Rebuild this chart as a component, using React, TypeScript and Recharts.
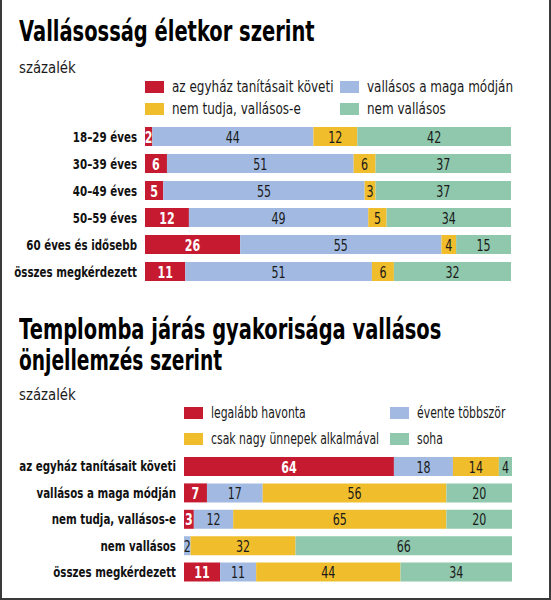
import { Bar, BarChart, LabelList, XAxis, YAxis } from "recharts";

// Vallásosság életkor szerint
const AGE_GROUPS = [
  "18–29 éves",
  "30–39 éves",
  "40–49 éves",
  "50–59 éves",
  "60 éves és idősebb",
  "összes megkérdezett",
];
const FOLLOWS_CHURCH = [2, 6, 5, 12, 26, 11];
const OWN_WAY = [44, 51, 55, 49, 55, 51];
const DONT_KNOW = [12, 6, 3, 5, 4, 6];
const NOT_RELIGIOUS = [42, 37, 37, 34, 15, 32];

// Templomba járás gyakorisága vallásos önjellemzés szerint
const SELF_IDS = [
  "az egyház tanításait követi",
  "vallásos a maga módján",
  "nem tudja, vallásos-e",
  "nem vallásos",
  "összes megkérdezett",
];
const MONTHLY = [64, 7, 3, 0, 11];
const YEARLY = [18, 17, 12, 2, 11];
const HOLIDAYS = [14, 56, 65, 32, 44];
const NEVER = [4, 20, 20, 66, 34];

const RED = "#c51a30";
const BLUE = "#a2bae2";
const YELLOW = "#f0bd2c";
const GREEN = "#8fc8ad";

// no condensed face installed, so DejaVu gets squeezed horizontally
const FONT = "'DejaVu Sans', sans-serif";

type Series = { key: string; name: string; color: string; values: number[] };

const AGE_SERIES: Series[] = [
  { key: "church", name: "az egyház tanításait követi", color: RED, values: FOLLOWS_CHURCH },
  { key: "own", name: "vallásos a maga módján", color: BLUE, values: OWN_WAY },
  { key: "unsure", name: "nem tudja, vallásos-e", color: YELLOW, values: DONT_KNOW },
  { key: "not", name: "nem vallásos", color: GREEN, values: NOT_RELIGIOUS },
];

const CHURCH_SERIES: Series[] = [
  { key: "monthly", name: "legalább havonta", color: RED, values: MONTHLY },
  { key: "yearly", name: "évente többször", color: BLUE, values: YEARLY },
  { key: "holidays", name: "csak nagy ünnepek alkalmával", color: YELLOW, values: HOLIDAYS },
  { key: "never", name: "soha", color: GREEN, values: NEVER },
];

function Squeezed({ children, k, style }: { children: React.ReactNode; k: number; style?: React.CSSProperties }) {
  return (
    <span
      style={{
        display: "inline-block",
        whiteSpace: "nowrap",
        transform: `scaleX(${k})`,
        transformOrigin: "0 0",
        ...style,
      }}
    >
      {children}
    </span>
  );
}

function Legend({
  series,
  left,
  top,
  colWidth,
  rowPitch,
  squeeze,
}: {
  series: Series[];
  left: number;
  top: number;
  colWidth: number;
  rowPitch: number;
  squeeze: number;
}) {
  return (
    <div style={{ position: "absolute", left, top, fontFamily: FONT, fontSize: 16, color: "#1a1a1a" }}>
      {series.map((s, i) => (
        <div
          key={s.key}
          style={{
            position: "absolute",
            left: (i % 2) * colWidth,
            top: Math.floor(i / 2) * rowPitch,
            display: "flex",
            alignItems: "center",
            height: 18,
          }}
        >
          <span style={{ width: 19, height: 12, background: s.color, marginRight: 8, flexShrink: 0 }} />
          <Squeezed k={squeeze} style={{ lineHeight: "18px" }}>
            {s.name}
          </Squeezed>
        </div>
      ))}
    </div>
  );
}

function StackedChart({
  categories,
  series,
  width,
  height,
  axisWidth,
}: {
  categories: string[];
  series: Series[];
  width: number;
  height: number;
  axisWidth: number;
}) {
  const data = categories.map((name, i) => {
    const row: Record<string, string | number> = { name };
    series.forEach((s) => (row[s.key] = s.values[i]));
    return row;
  });

  return (
    <BarChart
      width={width}
      height={height}
      data={data}
      layout="vertical"
      margin={{ top: 0, right: 0, bottom: 0, left: 0 }}
    >
      <XAxis type="number" domain={[0, 100]} hide />
      <YAxis
        type="category"
        dataKey="name"
        width={axisWidth}
        axisLine={false}
        tickLine={false}
        interval={0}
        tick={({ x, y, payload }: any) => (
          <text
            transform={`translate(${x} ${y}) scale(0.71 1)`}
            textAnchor="end"
            dominantBaseline="central"
            fontFamily={FONT}
            fontWeight="bold"
            fontSize={14.5}
            fill="#111"
          >
            {payload.value}
          </text>
        )}
      />
      {series.map((s, idx) => (
        <Bar key={s.key} dataKey={s.key} stackId="a" fill={s.color} barSize={19} isAnimationActive={false}>
          <LabelList
            dataKey={s.key}
            content={({ x, y, width: w, height: h, value }: any) =>
              value ? (
                <text
                  transform={`translate(${x + w / 2} ${y + h / 2 + 1}) scale(0.74 1)`}
                  textAnchor="middle"
                  dominantBaseline="central"
                  fontFamily={FONT}
                  fontSize={15}
                  fontWeight={idx === 0 ? "bold" : "normal"}
                  fill={idx === 0 ? "#fff" : "#1a1a1a"}
                >
                  {value}
                </text>
              ) : null
            }
          />
        </Bar>
      ))}
    </BarChart>
  );
}

const titleStyle: React.CSSProperties = {
  position: "absolute",
  left: 19,
  fontFamily: FONT,
  fontWeight: "bold",
  fontSize: 28,
  lineHeight: "31px",
  color: "#000",
};

const unitStyle: React.CSSProperties = {
  position: "absolute",
  left: 19,
  fontFamily: FONT,
  fontSize: 16,
  color: "#1a1a1a",
};

export default function App() {
  return (
    <div
      style={{
        position: "absolute",
        left: 0,
        top: 0,
        width: 551,
        height: 600,
        background: "#fff",
        boxSizing: "border-box",
        borderLeft: "2px solid #3a3a3a",
        borderRight: "2px solid #3a3a3a",
        borderBottom: "2px solid #3a3a3a",
        overflow: "hidden",
      }}
    >
      <div style={{ position: "absolute", left: -2, top: 0 }}>
        <div style={{ ...titleStyle, top: 16 }}>
          <Squeezed k={0.695}>Vallásosság életkor szerint</Squeezed>
        </div>
        <div style={{ ...unitStyle, top: 58 }}>
          <Squeezed k={0.83}>százalék</Squeezed>
        </div>
        <Legend series={AGE_SERIES} left={145} top={78} colWidth={195} rowPitch={21.5} squeeze={0.75} />
        <div style={{ position: "absolute", left: 0, top: 123 }}>
          <StackedChart categories={AGE_GROUPS} series={AGE_SERIES} width={511} height={162} axisWidth={145} />
        </div>

        <div style={{ ...titleStyle, top: 314 }}>
          <Squeezed k={0.695}>Templomba járás gyakorisága vallásos</Squeezed>
        </div>
        <div style={{ ...titleStyle, top: 345 }}>
          <Squeezed k={0.665}>önjellemzés szerint</Squeezed>
        </div>
        <div style={{ ...unitStyle, top: 385 }}>
          <Squeezed k={0.83}>százalék</Squeezed>
        </div>
        <Legend series={CHURCH_SERIES} left={184} top={404} colWidth={206} rowPitch={25.5} squeeze={0.68} />
        <div style={{ position: "absolute", left: 0, top: 453 }}>
          <StackedChart categories={SELF_IDS} series={CHURCH_SERIES} width={512} height={132} axisWidth={184} />
        </div>
      </div>
    </div>
  );
}
